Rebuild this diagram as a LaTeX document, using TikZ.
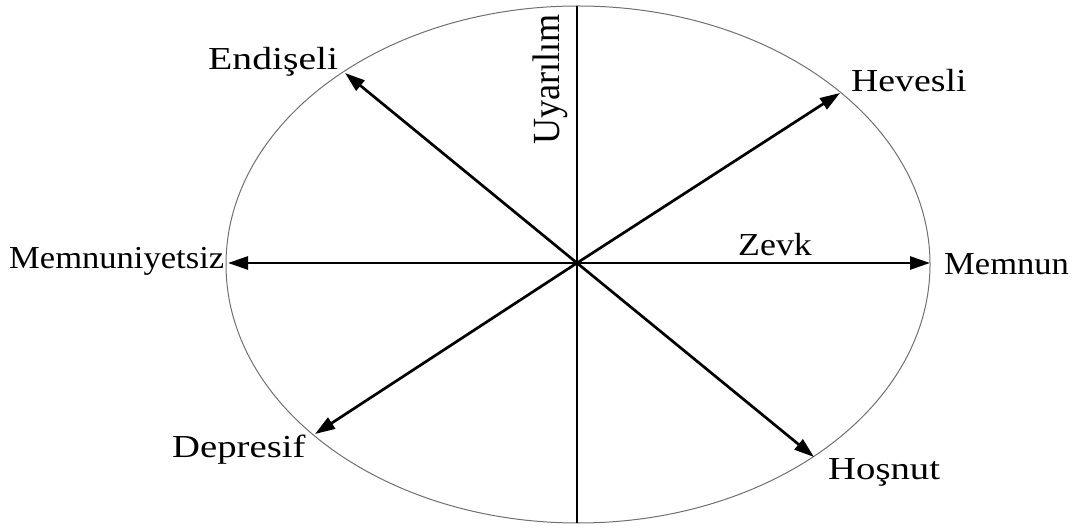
\documentclass[tikz,border=0pt]{standalone}
\usepackage{fontspec}
\setmainfont{Liberation Serif}
\usetikzlibrary{arrows.meta}
\definecolor{rimgray}{HTML}{707070}
\begin{document}
\begin{tikzpicture}[x=1pt,y=1pt,
  axisline/.style={line width=2.7pt,black},
  axisarrow/.style={axisline,-{Triangle[length=20pt,width=13pt]}},
  rim/.style={draw=rimgray,line width=1pt},
  lbl/.style={inner sep=0pt,anchor=base west,font=\fontsize{32}{36}\selectfont}]
\useasboundingbox (0,0) rectangle (1091,527);
\draw[rim] (578,262.5) ellipse [x radius=352, y radius=258.5];
\coordinate (O) at (577,264);
\coordinate (top) at (577,521);
\coordinate (bot) at (577,4);
\coordinate (tL) at (228,264);
\coordinate (tR) at (930,264);
\coordinate (tNW) at (345,454);
\coordinate (tNE) at (840,434);
\coordinate (tSW) at (315,93);
\coordinate (tSE) at (814,70);
\draw[axisline] (top) -- (bot);
\draw[axisarrow] (O) -- (tL);
\draw[axisarrow] (O) -- (tR);
\draw[axisarrow] (O) -- (tNW);
\draw[axisarrow] (O) -- (tNE);
\draw[axisarrow] (O) -- (tSW);
\draw[axisarrow] (O) -- (tSE);
\node[lbl] (endiseli) at (208,457) {\scalebox{1.24}[1]{Endişeli}};
\node[lbl] (hevesli) at (851,435) {\scalebox{1.18}[1]{Hevesli}};
\node[lbl] (memnuniyetsiz) at (9,258) {\scalebox{1.08}[1]{Memnuniyetsiz}};
\node[lbl] (zevk) at (738,271) {\scalebox{1.12}[1]{Zevk}};
\node[lbl] (memnun) at (944,252) {\scalebox{1.08}[1]{Memnun}};
\node[lbl] (depresif) at (172,69) {\scalebox{1.21}[1]{Depresif}};
\node[lbl] (hosnut) at (828,48) {\scalebox{1.21}[1]{Hoşnut}};
\node[lbl,rotate=90] (uyarilim) at (559,382) {\scalebox{1.13}[1.2]{Uyarılım}};
\end{tikzpicture}
\end{document}
